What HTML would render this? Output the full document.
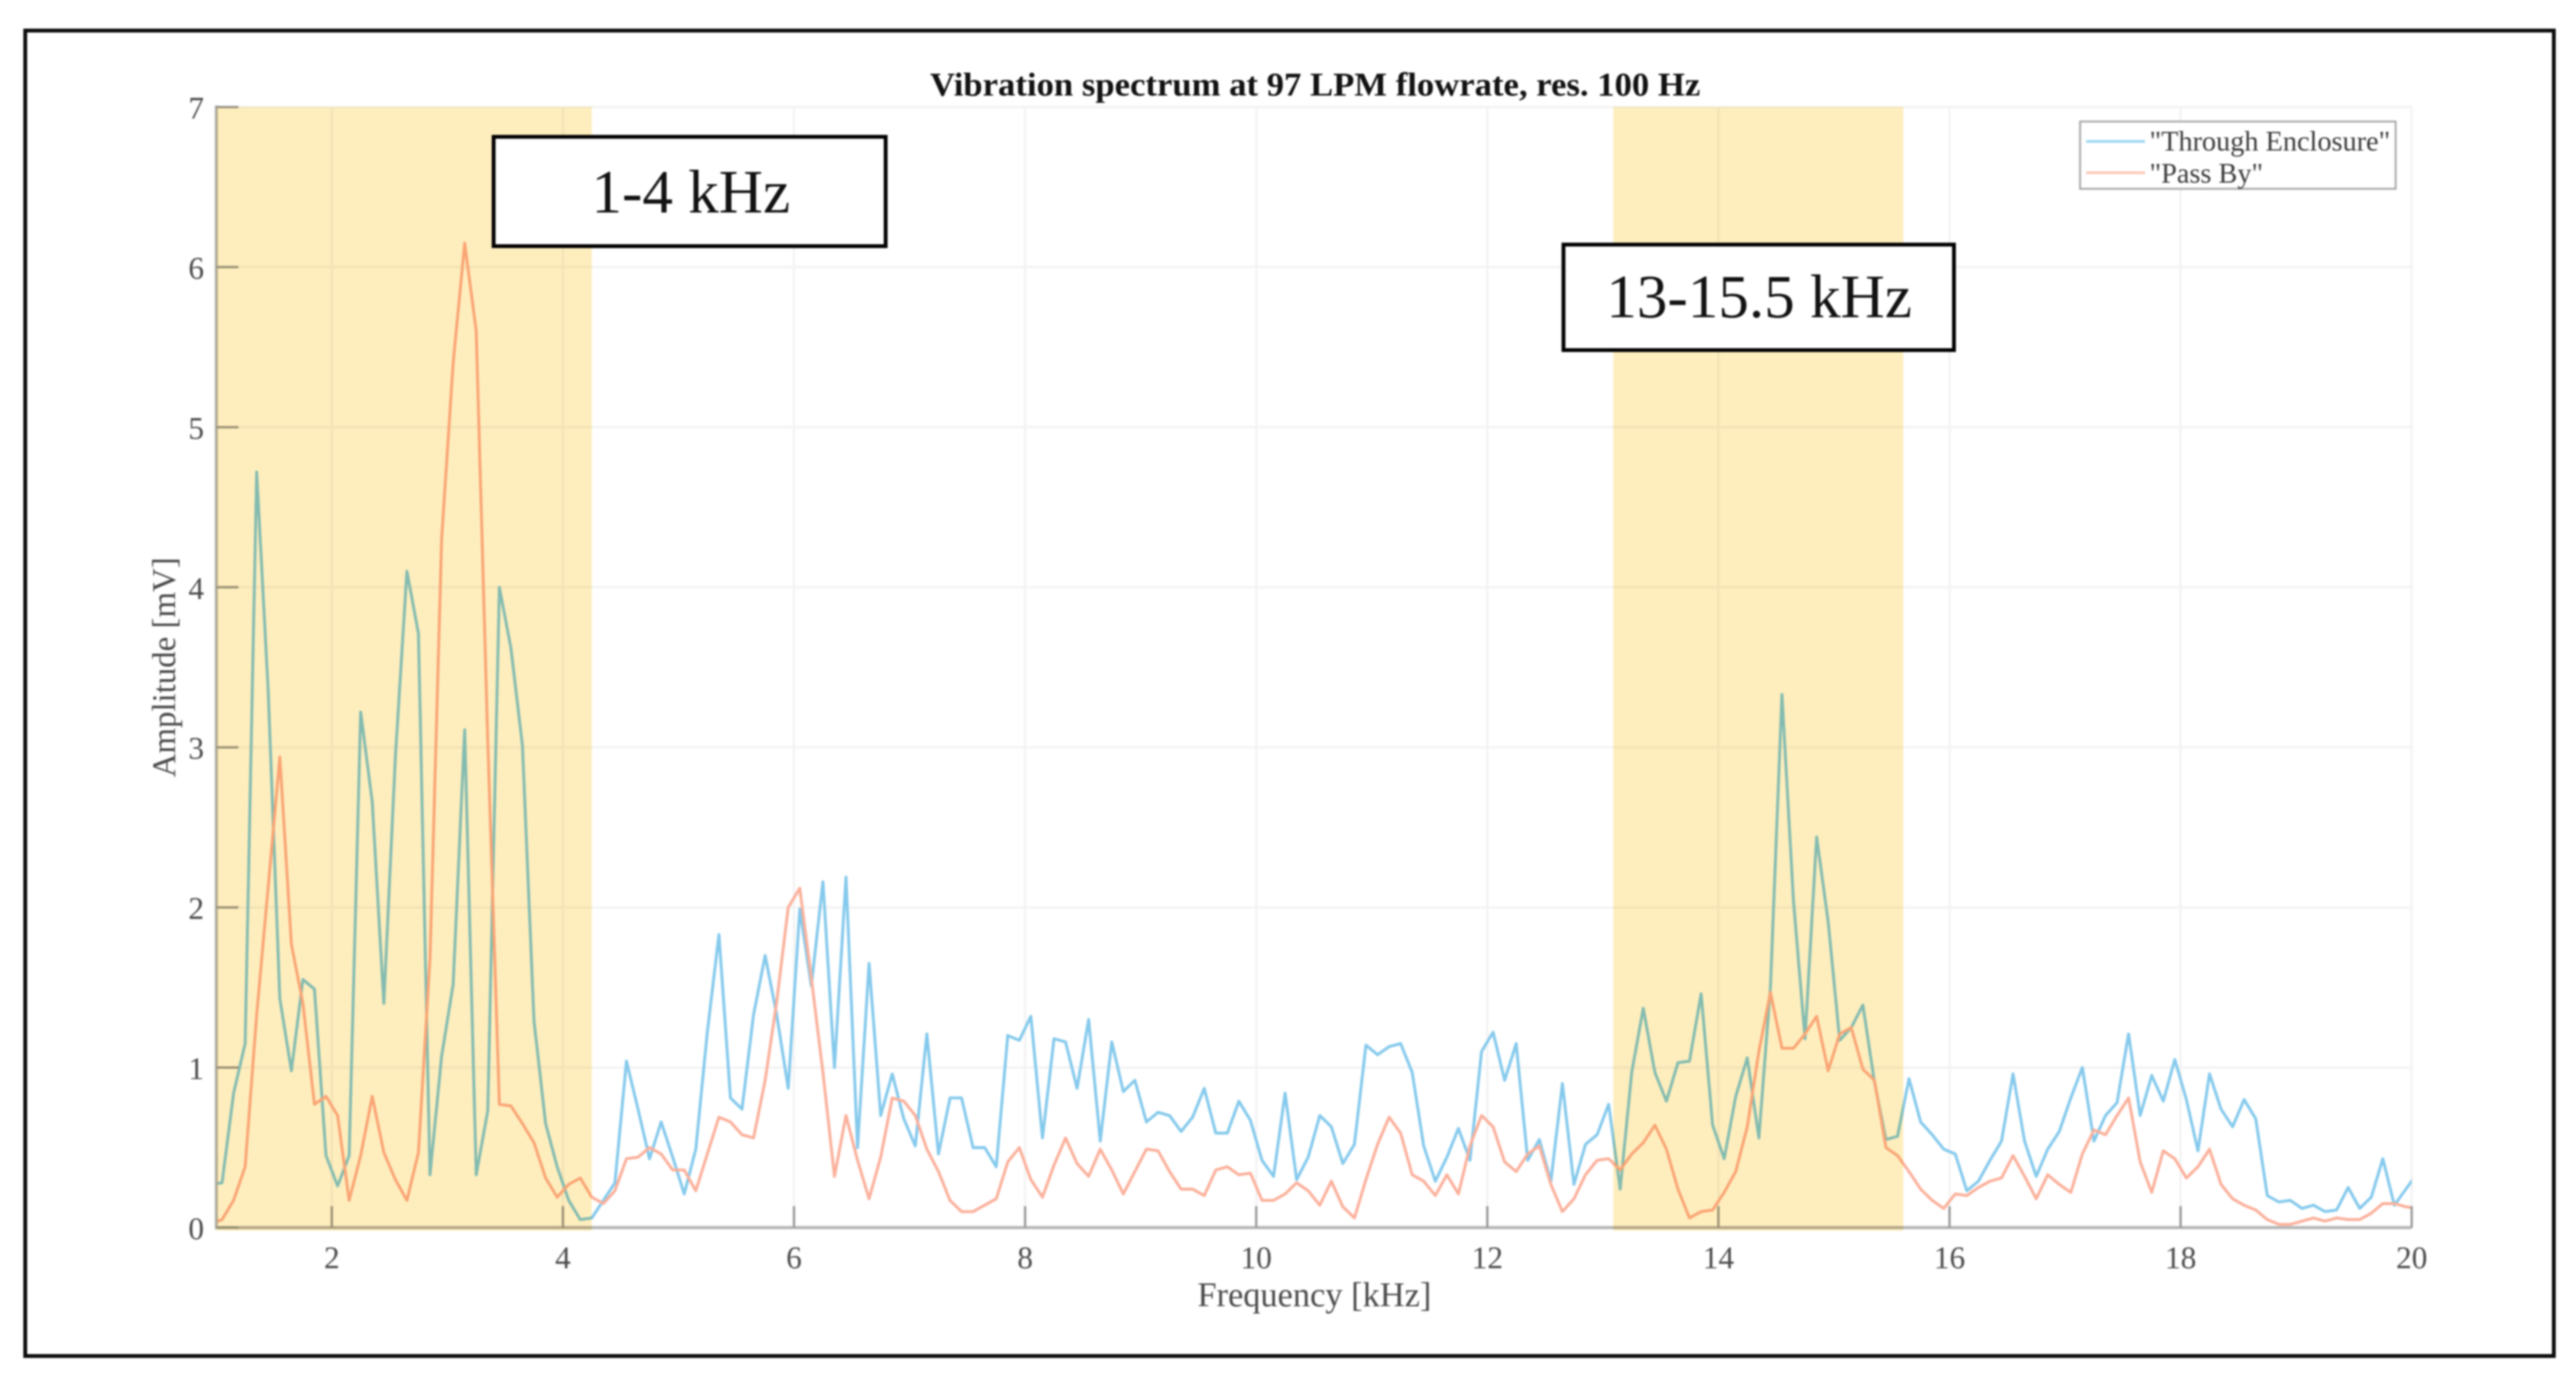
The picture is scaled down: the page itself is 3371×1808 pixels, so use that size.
<!DOCTYPE html>
<html lang="en">
<head>
<meta charset="utf-8">
<title>Vibration spectrum at 97 LPM flowrate</title>
<style>
html,body{margin:0;padding:0;background:#fff;}
body{width:3371px;height:1808px;overflow:hidden;}
svg{display:block;filter:blur(1.1px);}
text{font-family:"Liberation Serif",serif;}
</style>
</head>
<body>
<svg id="chart" xmlns="http://www.w3.org/2000/svg" width="3371" height="1808" viewBox="0 0 3371 1808">
  <rect x="0" y="0" width="3371" height="1808" fill="#ffffff"/>
  <rect x="33" y="40" width="3309" height="1734" fill="#ffffff" stroke="#0a0a0a" stroke-width="5"/>
  <text x="1721" y="125" text-anchor="middle" font-size="43" font-weight="bold" fill="#111111" textLength="1008" lengthAdjust="spacingAndGlyphs">Vibration spectrum at 97 LPM flowrate, res. 100 Hz</text>
  <defs><clipPath id="plot-clip"><rect x="283" y="140" width="2873" height="1466"/></clipPath></defs>
  <g id="grid"></g>
  <g id="series" clip-path="url(#plot-clip)"></g>
  <g id="axes"></g>
  <g id="bands"></g>
  <text x="1720" y="1709" text-anchor="middle" font-size="45" fill="#4a4a4a">Frequency [kHz]</text>
  <text transform="translate(229,873) rotate(-90)" text-anchor="middle" font-size="43" fill="#4a4a4a">Amplitude [mV]</text>
  <g>
    <rect x="2722" y="159" width="413" height="88" fill="#ffffff" stroke="#a8a8a8" stroke-width="2.5"/>
    <line x1="2730" x2="2807" y1="185" y2="185" stroke="#9ad6f1" stroke-width="3.5"/>
    <text x="2813" y="197" font-size="37" fill="#3a3a3a">"Through Enclosure"</text>
    <line x1="2730" x2="2807" y1="226" y2="226" stroke="#fcc6b6" stroke-width="3.5"/>
    <text x="2813" y="239" font-size="37" fill="#3a3a3a">"Pass By"</text>
  </g>
  <g>
    <rect x="646" y="179" width="513" height="143" fill="#ffffff" stroke="#000000" stroke-width="5"/>
    <text x="904" y="278" text-anchor="middle" font-size="80" fill="#111111">1-4 kHz</text>
  </g>
  <g>
    <rect x="2046" y="320" width="511" height="138" fill="#ffffff" stroke="#000000" stroke-width="5"/>
    <text x="2302" y="415" text-anchor="middle" font-size="80" fill="#111111">13-15.5 kHz</text>
  </g>
</svg>
<script>
const xTickLabels = [2,4,6,8,10,12,14,16,18,20];
const yTickLabels = [0,1,2,3,4,5,6,7];
const bandRanges = [[1,4.25],[13.09,15.6]];
const frequencies = [0.95,
1.05,1.15,1.25,1.35,1.45,1.55,1.65,1.75,1.85,1.95,
2.05,2.15,2.25,2.35,2.45,2.55,2.65,2.75,2.85,2.95,
3.05,3.15,3.25,3.35,3.45,3.55,3.65,3.75,3.85,3.95,
4.05,4.15,4.25,4.35,4.45,4.55,4.65,4.75,4.85,4.95,
5.05,5.15,5.25,5.35,5.45,5.55,5.65,5.75,5.85,5.95,
6.05,6.15,6.25,6.35,6.45,6.55,6.65,6.75,6.85,6.95,
7.05,7.15,7.25,7.35,7.45,7.55,7.65,7.75,7.85,7.95,
8.05,8.15,8.25,8.35,8.45,8.55,8.65,8.75,8.85,8.95,
9.05,9.15,9.25,9.35,9.45,9.55,9.65,9.75,9.85,9.95,
10.05,10.15,10.25,10.35,10.45,10.55,10.65,10.75,10.85,10.95,
11.05,11.15,11.25,11.35,11.45,11.55,11.65,11.75,11.85,11.95,
12.05,12.15,12.25,12.35,12.45,12.55,12.65,12.75,12.85,12.95,
13.05,13.15,13.25,13.35,13.45,13.55,13.65,13.75,13.85,13.95,
14.05,14.15,14.25,14.35,14.45,14.55,14.65,14.75,14.85,14.95,
15.05,15.15,15.25,15.35,15.45,15.55,15.65,15.75,15.85,15.95,
16.05,16.15,16.25,16.35,16.45,16.55,16.65,16.75,16.85,16.95,
17.05,17.15,17.25,17.35,17.45,17.55,17.65,17.75,17.85,17.95,
18.05,18.15,18.25,18.35,18.45,18.55,18.65,18.75,18.85,18.95,
19.05,19.15,19.25,19.35,19.45,19.55,19.65,19.75,19.85,19.95,
20.05];
const throughEnclosure = [0.27,
.28,.84,1.15,4.72,3.35,1.43,.98,1.55,1.49,.45,
.26,.45,3.22,2.66,1.40,2.94,4.10,3.71,.33,1.07,
1.52,3.11,.33,.73,4.0,3.62,3.01,1.29,.65,.38,
.17,.05,.06,.17,.28,1.04,.74,.43,.66,.44,
.21,.49,1.22,1.83,.81,.74,1.33,1.70,1.33,.87,
1.99,1.51,2.16,1.0,2.19,.50,1.65,.70,.96,.68,
.51,1.21,.46,.81,.81,.50,.50,.38,1.20,1.17,
1.32,.56,1.18,1.16,.87,1.30,.54,1.16,.85,.92,
.66,.72,.70,.60,.69,.87,.59,.59,.79,.67,
.42,.32,.84,.30,.44,.70,.63,.40,.52,1.14,
1.08,1.13,1.15,.97,.51,.29,.44,.62,.42,1.10,
1.22,.92,1.15,.42,.55,.29,.90,.27,.52,.58,
.77,.24,.97,1.37,.97,.79,1.03,1.04,1.46,.64,
.43,.82,1.06,.56,1.5,3.33,2.04,1.18,2.44,1.91,
1.17,1.25,1.39,.91,.55,.57,.93,.66,.58,.49,
.46,.23,.29,.42,.54,.96,.54,.32,.49,.60,
.81,1.0,.54,.70,.78,1.21,.70,.95,.79,1.05,
.80,.48,.96,.74,.63,.80,.68,.20,.16,.17,
.12,.14,.10,.11,.25,.12,.19,.43,.14,.24,
.34];
const passBy = [0.02,
.05,.17,.38,1.33,2.13,2.94,1.77,1.40,.77,.82,
.70,.17,.45,.82,.47,.30,.17,.47,1.68,4.30,
5.4,6.15,5.6,3.04,.77,.76,.65,.53,.31,.19,
.27,.31,.19,.15,.23,.43,.44,.50,.46,.36,
.36,.23,.46,.69,.66,.58,.56,.92,1.41,2.0,
2.12,1.56,.97,.32,.70,.42,.18,.44,.81,.79,
.70,.49,.35,.17,.10,.10,.14,.18,.41,.50,
.30,.19,.39,.56,.40,.32,.49,.36,.21,.35,
.49,.48,.35,.24,.24,.20,.36,.38,.33,.34,
.17,.17,.21,.28,.23,.14,.29,.13,.06,.30,
.52,.69,.59,.33,.29,.20,.33,.21,.51,.70,
.63,.41,.35,.46,.51,.27,.10,.18,.33,.42,
.43,.36,.46,.53,.64,.49,.24,.06,.10,.11,
.22,.35,.63,1.10,1.47,1.12,1.12,1.21,1.32,.98,
1.21,1.25,.99,.92,.50,.45,.35,.24,.17,.12,
.21,.20,.25,.29,.31,.45,.32,.18,.33,.27,
.22,.46,.61,.58,.70,.81,.41,.22,.48,.43,
.31,.38,.49,.27,.18,.14,.11,.05,.02,.02,
.04,.06,.04,.06,.05,.05,.09,.15,.15,.13,
.12];

const NS = 'http://www.w3.org/2000/svg';
const plotLeft = 283, plotRight = 3156, plotTop = 140, plotBottom = 1606;
const xMin = 1, xMax = 20, yMin = 0, yMax = 7;
function xScale(v){ return plotLeft + (v - xMin) / (xMax - xMin) * (plotRight - plotLeft); }
function yScale(v){ return plotBottom - (v - yMin) / (yMax - yMin) * (plotBottom - plotTop); }
function svgEl(tag, parent, attrs){
  const el = document.createElementNS(NS, tag);
  for (const k in attrs) el.setAttribute(k, attrs[k]);
  parent.appendChild(el);
  return el;
}
const gridG = document.getElementById('grid');
const seriesG = document.getElementById('series');
const axesG = document.getElementById('axes');
const bandsG = document.getElementById('bands');

xTickLabels.forEach(function(v){
  const g = svgEl('line', gridG, {x1:xScale(v), x2:xScale(v), y1:plotTop, y2:plotBottom, stroke:'#f3f3f3', 'stroke-width':3});
  
  
});
yTickLabels.forEach(function(v){
  const g = svgEl('line', gridG, {x1:plotLeft, x2:plotRight, y1:yScale(v), y2:yScale(v), stroke:'#f3f3f3', 'stroke-width':3});
  
  
});

function drawSeries(values, color, name){
  const pts = values.map(function(v, i){ return xScale(frequencies[i]).toFixed(1) + ',' + yScale(v).toFixed(1); }).join(' ');
  const line = svgEl('polyline', seriesG, {points:pts, fill:'none', stroke:color, 'stroke-width':3.8, 'stroke-linejoin':'round'});
  
  
}
drawSeries(throughEnclosure, '#84c9ec', 'series-through-enclosure');
drawSeries(passBy, '#fbb09b', 'series-pass-by');

const yAxisLine = svgEl('line', axesG, {x1:plotLeft, x2:plotLeft, y1:plotTop - 2, y2:plotBottom + 2, stroke:'#b4b4b4', 'stroke-width':4});


const xAxisLine = svgEl('line', axesG, {x1:plotLeft, x2:plotRight, y1:plotBottom, y2:plotBottom, stroke:'#b4b4b4', 'stroke-width':4});



xTickLabels.forEach(function(v){
  const t = svgEl('line', axesG, {x1:xScale(v), x2:xScale(v), y1:plotBottom, y2:plotBottom - 28, stroke:'#999999', 'stroke-width':3});
  
  
  const l = svgEl('text', axesG, {x:xScale(v), y:plotBottom + 53, 'text-anchor':'middle', 'font-size':41, fill:'#4a4a4a'});
  
  
  l.textContent = String(v);
});
yTickLabels.forEach(function(v){
  const t = svgEl('line', axesG, {x1:plotLeft, x2:plotLeft + 29, y1:yScale(v), y2:yScale(v), stroke:'#999999', 'stroke-width':3});
  
  
  const l = svgEl('text', axesG, {x:plotLeft - 16, y:yScale(v) + 15, 'text-anchor':'end', 'font-size':41, fill:'#4a4a4a'});
  
  
  l.textContent = String(v);
});

bandRanges.forEach(function(r){
  const b = svgEl('rect', bandsG, {x:xScale(r[0]), y:plotTop, width:xScale(r[1]) - xScale(r[0]), height:plotBottom - plotTop + 4, fill:'#feeebe', style:'mix-blend-mode:multiply'});
  
  
});
</script>
</body>
</html>
